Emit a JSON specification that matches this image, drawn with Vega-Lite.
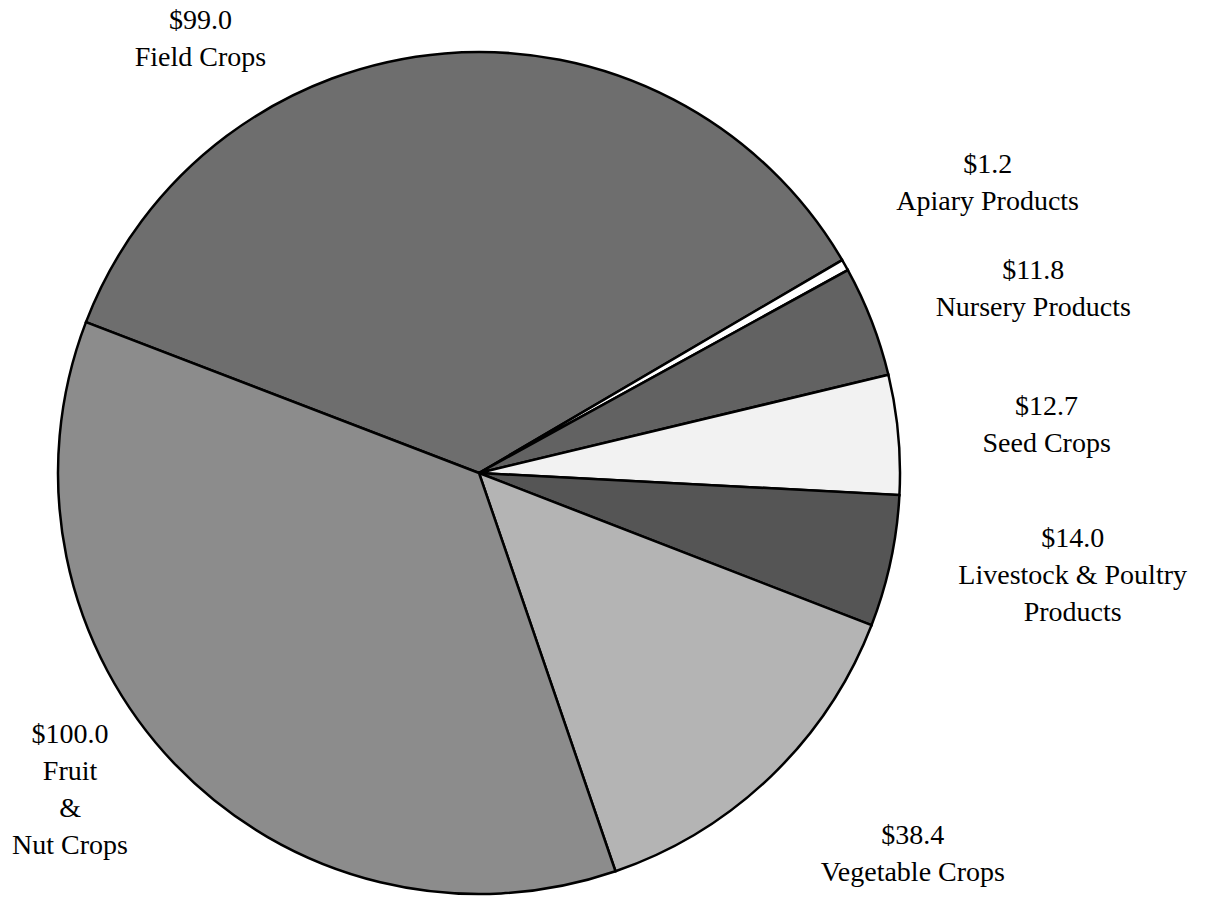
{
  "$schema": "https://vega.github.io/schema/vega-lite/v6.json",
  "width": 958,
  "height": 848,
  "autosize": "none",
  "padding": {"left": 0, "top": 49, "right": 248, "bottom": 0},
  "background": "white",
  "view": {"stroke": null},
  "data": {
    "values": [
      {"category": "Field Crops", "value": 99.0, "rank": 1, "label": "$99.0\nField Crops"},
      {"category": "Apiary Products", "value": 1.2, "rank": 2, "label": "$1.2\nApiary Products"},
      {"category": "Nursery Products", "value": 11.8, "rank": 3, "label": "$11.8\nNursery Products"},
      {"category": "Seed Crops", "value": 12.7, "rank": 4, "label": "$12.7\nSeed Crops"},
      {"category": "Livestock & Poultry Products", "value": 14.0, "rank": 5, "label": "$14.0\nLivestock & Poultry\nProducts"},
      {"category": "Vegetable Crops", "value": 38.4, "rank": 6, "label": "$38.4\nVegetable Crops"},
      {"category": "Fruit & Nut Crops", "value": 100.0, "rank": 7, "label": "$100.0\nFruit\n&\nNut Crops"}
    ]
  },
  "encoding": {
    "theta": {"field": "value", "type": "quantitative", "stack": true, "scale": {"range": [5.0789, 11.3621], "nice": false, "zero": true}},
    "order": {"field": "rank", "type": "quantitative"}
  },
  "layer": [
    {
      "mark": {"type": "arc", "outerRadius": 421, "stroke": "black", "strokeWidth": 2.5},
      "encoding": {
        "color": {
          "field": "category",
          "type": "nominal",
          "legend": null,
          "scale": {
            "domain": ["Field Crops", "Apiary Products", "Nursery Products", "Seed Crops", "Livestock & Poultry Products", "Vegetable Crops", "Fruit & Nut Crops"],
            "range": ["#6e6e6e", "#ffffff", "#626262", "#f2f2f2", "#555555", "#b4b4b4", "#8c8c8c"]
          }
        }
      }
    },
    {
      "mark": {
        "type": "text",
        "font": "Liberation Serif",
        "fontSize": 28,
        "lineBreak": "\n",
        "lineHeight": 37,
        "align": "center",
        "baseline": "middle",
        "fill": "black",
        "radius": {"expr": "datum.category === 'Field Crops' ? 435 : datum.category === 'Seed Crops' ? 570 : datum.category === 'Livestock & Poultry Products' ? 600 : datum.category === 'Vegetable Crops' ? 577 : datum.category === 'Fruit & Nut Crops' ? 500 : datum.category === 'Nursery Products' ? 590 : 585"},
        "dx": {"expr": "datum.category === 'Field Crops' ? -243 : datum.category === 'Nursery Products' ? 4 : datum.category === 'Livestock & Poultry Products' ? 7 : datum.category === 'Vegetable Crops' ? 34 : datum.category === 'Fruit & Nut Crops' ? -49 : 0"},
        "dy": {"expr": "datum.category === 'Field Crops' ? -18.5 : datum.category === 'Apiary Products' ? -19.5 : datum.category === 'Nursery Products' ? 10.5 : datum.category === 'Seed Crops' ? -13.5 : datum.category === 'Livestock & Poultry Products' ? -60 : datum.category === 'Vegetable Crops' ? -53.5 : datum.category === 'Fruit & Nut Crops' ? -85.5 : 0"}
      },
      "encoding": {
        "text": {"field": "label", "type": "nominal"}
      }
    }
  ]
}
